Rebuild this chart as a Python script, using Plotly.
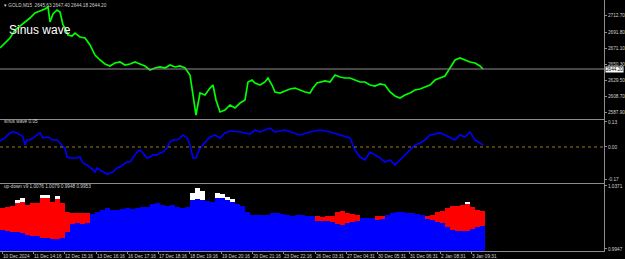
import plotly.graph_objects as go
from plotly.subplots import make_subplots

# ---------------- data ----------------
# bar positions along the time axis (bar index)
price_x = [0, 5, 10, 15, 20, 25, 30, 35, 40, 45, 48, 50, 53, 57, 60, 63, 65, 68, 72, 75,
           80, 85, 90, 95, 100, 105, 110, 115, 120, 125, 130, 135, 140, 145, 150, 155, 160,
           165, 170, 175, 180, 185, 190, 193, 196, 200, 205, 210, 213, 216, 220, 225, 230,
           235, 240, 245, 248, 252, 255, 260, 265, 268, 272, 275, 280, 285, 290, 295, 300,
           305, 310, 313, 317, 320, 325, 330, 335, 340, 345, 350, 355, 360, 365, 370, 375,
           380, 385, 390, 395, 400, 405, 410, 415, 420, 425, 430, 435, 440, 445, 450, 455,
           460, 465, 470, 475, 480, 483]
price = [2671.2, 2677.7, 2684.1, 2694.4, 2699.5, 2704.7, 2709.8, 2716.3, 2718.8, 2721.4,
         2724.0, 2704.7, 2715.0, 2720.1, 2717.6, 2700.8, 2697.0, 2688.0, 2686.7, 2690.5,
         2685.4, 2684.1, 2675.1, 2662.2, 2655.8, 2650.6, 2648.1, 2651.9, 2653.2, 2649.3,
         2650.6, 2653.2, 2650.6, 2648.1, 2642.9, 2645.5, 2646.8, 2645.5, 2649.3, 2646.8,
         2648.1, 2645.5, 2636.5, 2610.7, 2585.0, 2613.3, 2610.7, 2619.7, 2623.6, 2604.3,
         2588.9, 2591.4, 2597.9, 2594.0, 2600.4, 2604.3, 2627.5, 2630.0, 2626.2, 2623.6,
         2627.5, 2632.6, 2623.6, 2614.6, 2613.3, 2615.9, 2618.5, 2619.7, 2617.2, 2614.6,
         2613.3, 2619.7, 2626.2, 2627.5, 2628.8, 2627.5, 2636.5, 2633.9, 2632.6, 2632.6,
         2630.0, 2627.5, 2627.5, 2623.6, 2622.3, 2624.9, 2623.6, 2614.6, 2609.5, 2606.9,
         2610.7, 2613.3, 2617.2, 2618.5, 2621.0, 2623.6, 2630.0, 2632.6, 2635.2, 2645.5,
         2655.8, 2658.4, 2655.8, 2653.2, 2651.9, 2648.1, 2644.2]

sine_x = [0, 5, 10, 13, 17, 20, 23, 25, 27, 30, 33, 37, 40, 43, 47, 50, 53, 57, 60, 63,
          65, 67, 70, 73, 77, 80, 83, 87, 90, 93, 95, 97, 100, 103, 107, 110, 113, 117, 120,
          123, 127, 130, 133, 137, 140, 143, 147, 150, 153, 157, 160, 163, 167, 170, 173,
          177, 180, 183, 187, 190, 193, 196, 200, 205, 210, 215, 220, 225, 230, 240, 250,
          255, 260, 270, 275, 285, 295, 300, 310, 320, 330, 340, 350, 355, 360, 365, 370,
          375, 380, 385, 390, 395, 400, 405, 410, 415, 420, 425, 430, 440, 445, 450, 455,
          460, 465, 470, 475, 480, 483]
sine = [0.031, 0.047, 0.073, 0.078, 0.073, 0.062, 0.052, 0.010, 0.036, 0.036, 0.047,
        0.062, 0.073, 0.047, 0.052, 0.047, 0.036, 0.036, 0.021, 0.000, -0.005, -0.052,
        -0.057, -0.057, -0.057, -0.052, -0.083, -0.093, -0.104, -0.119, -0.130, -0.109,
        -0.119, -0.130, -0.140, -0.135, -0.130, -0.109, -0.104, -0.093, -0.078, -0.078,
        -0.057, -0.026, -0.016, -0.031, -0.057, -0.052, -0.041, -0.041, -0.031, -0.026,
        -0.005, 0.026, 0.036, 0.036, 0.047, 0.062, 0.047, 0.010, -0.057, -0.057, -0.005,
        0.026, 0.052, 0.062, 0.047, 0.073, 0.083, 0.078, 0.067, 0.088, 0.078, 0.098,
        0.078, 0.088, 0.073, 0.062, 0.078, 0.088, 0.078, 0.062, 0.047, -0.016, -0.052,
        -0.067, -0.026, -0.041, -0.057, -0.078, -0.067, -0.093, -0.067, -0.041, -0.016,
        0.010, 0.021, 0.036, 0.062, 0.073, 0.062, 0.047, 0.036, 0.062, 0.052, 0.078,
        0.036, 0.021, 0.010]

ud_x = list(range(0, 485, 5))
ud_blue = [1.0075, 1.0068, 1.0061, 1.0061, 1.0055, 1.0041, 1.0035, 1.0035, 1.0021, 1.0021,
           1.0014, 1.0014, 1.0021, 1.0061, 1.0115, 1.0122, 1.0115, 1.0122, 1.0183, 1.0196,
           1.0210, 1.0223, 1.0210, 1.0210, 1.0216, 1.0223, 1.0216, 1.0223, 1.0230, 1.0230,
           1.0250, 1.0257, 1.0243, 1.0236, 1.0243, 1.0230, 1.0223, 1.0230, 1.0277, 1.0284,
           1.0277, 1.0270, 1.0263, 1.0290, 1.0290, 1.0277, 1.0263, 1.0250, 1.0236, 1.0196,
           1.0176, 1.0176, 1.0176, 1.0176, 1.0189, 1.0189, 1.0183, 1.0176, 1.0169, 1.0176,
           1.0176, 1.0169, 1.0169, 1.0135, 1.0135, 1.0135, 1.0129, 1.0115, 1.0109, 1.0122,
           1.0129, 1.0135, 1.0156, 1.0156, 1.0156, 1.0142, 1.0149, 1.0176, 1.0189, 1.0196,
           1.0196, 1.0189, 1.0189, 1.0183, 1.0176, 1.0149, 1.0142, 1.0129, 1.0122, 1.0095,
           1.0075, 1.0068, 1.0068, 1.0068, 1.0082, 1.0095, 1.0102]
N = None
ud_red = [1.0223, 1.0230, 1.0236, 1.0257, 1.0263, 1.0243, 1.0257, 1.0257, 1.0290, 1.0290,
          1.0263, 1.0284, 1.0257, 1.0196, 1.0189, 1.0189, 1.0189, 1.0189, N, N,
          N, N, N, N, N, N, N, N, N, N,
          N, N, N, N, N, N, N, N, N, N,
          N, N, N, N, N, N, N, N, N, N,
          N, N, N, N, N, N, N, N, N, N,
          N, N, N, 1.0169, 1.0162, 1.0169, 1.0169, 1.0196, 1.0203, 1.0189,
          1.0183, 1.0176, N, N, N, 1.0169, 1.0169, N, N, N,
          N, N, N, N, N, 1.0169, 1.0176, 1.0196, 1.0203, 1.0223,
          1.0236, 1.0236, 1.0243, 1.0250, 1.0230, 1.0210, 1.0203]
ud_white = {15: 1.0277, 20: 1.0290, 40: 1.0310, 45: 1.0310, 55: 1.0304, 190: 1.0324,
            195: 1.0358, 200: 1.0337, 215: 1.0324, 220: 1.0317, 225: 1.0297, 230: 1.0284,
            465: 1.0263}

tick_pos = [2, 33, 64, 96, 127, 158, 189, 221, 252, 283, 315, 346, 377, 409, 440, 471]
tick_text = ["10 Dec 2024", "11 Dec 14:16", "12 Dec 15:16", "13 Dec 16:16", "16 Dec 17:16",
             "17 Dec 18:16", "18 Dec 19:16", "19 Dec 20:16", "20 Dec 21:16", "23 Dec 22:16",
             "26 Dec 03:31", "27 Dec 04:31", "30 Dec 05:31", "31 Dec 06:31", "2 Jan 08:31",
             "3 Jan 09:31"]
price_ticks = [2712.70, 2691.80, 2671.10, 2650.30, 2629.50, 2608.70, 2587.90]
sine_ticks = [0.13, 0.00, -0.17]
ud_ticks = [1.0371, 0.9947]
last_price = 2644.20

# ---------------- figure ----------------
AX = "#8c8c8c"
TXT = "#d2d2d2"
FONT = "Liberation Sans"
FS = 4.7
BASE = 0.990

fig = make_subplots(rows=3, cols=1, shared_xaxes=True, vertical_spacing=0.0)
fig.add_trace(go.Scatter(x=price_x, y=price, mode="lines",
                         line=dict(color="#00ff00", width=1.7)), row=1, col=1)
fig.add_trace(go.Scatter(x=sine_x, y=sine, mode="lines",
                         line=dict(color="#0000ff", width=1.6)), row=2, col=1)

fig.add_trace(go.Bar(x=ud_x, y=[b - BASE for b in ud_blue], base=BASE, width=5, offset=0,
                     marker=dict(color="#0000ff", line=dict(width=0))), row=3, col=1)
rx, rb, rh = [], [], []
for xv, b, r in zip(ud_x, ud_blue, ud_red):
    if r is not None:
        rx.append(xv); rb.append(b); rh.append(r - b)
fig.add_trace(go.Bar(x=rx, y=rh, base=rb, width=5, offset=0,
                     marker=dict(color="#ff0000", line=dict(width=0))), row=3, col=1)
wx, wb, wh = [], [], []
for xv, b, r in zip(ud_x, ud_blue, ud_red):
    if xv in ud_white:
        lo = r if r is not None else b
        wx.append(xv); wb.append(lo); wh.append(ud_white[xv] - lo)
fig.add_trace(go.Bar(x=wx, y=wh, base=wb, width=5, offset=0,
                     marker=dict(color="#ffffff", line=dict(width=0))), row=3, col=1)

fig.update_layout(
    width=625, height=259,
    margin=dict(l=0, r=21, t=0, b=8, autoexpand=False),
    paper_bgcolor="#000000", plot_bgcolor="#000000",
    showlegend=False, barmode="overlay", bargap=0,
    font=dict(family=FONT, color=TXT, size=FS),
)

xcommon = dict(range=[0, 604], showgrid=False, zeroline=False, showline=True,
               linecolor=AX, linewidth=1, mirror=True, automargin=False)
fig.update_layout(
    xaxis=dict(**xcommon, showticklabels=False, ticks=""),
    xaxis2=dict(**xcommon, showticklabels=False, ticks=""),
    xaxis3=dict(**xcommon, tickmode="array", tickvals=tick_pos, ticktext=tick_text,
                ticks="outside", ticklen=2, tickcolor=AX, tickangle=0,
                ticklabelposition="outside right",
                tickfont=dict(size=FS, color=TXT, family=FONT)),
)
ycommon = dict(side="right", showgrid=False, zeroline=False, showline=True,
               linecolor=AX, linewidth=1, mirror=True, ticks="outside", ticklen=2,
               tickcolor=AX, automargin=False,
               tickfont=dict(size=FS, color=TXT, family=FONT))
fig.update_layout(
    yaxis=dict(**ycommon, domain=[0.526, 1.0], range=[2579.9, 2733.0],
               tickvals=price_ticks, ticktext=[f"{v:.2f}" for v in price_ticks]),
    yaxis2=dict(**ycommon, domain=[0.271, 0.522], range=[-0.1865, 0.140],
                tickvals=sine_ticks, ticktext=[f"{v:.2f}" for v in sine_ticks]),
    yaxis3=dict(**ycommon, domain=[0.0, 0.267], range=[0.99335, 1.03845],
                tickvals=ud_ticks, ticktext=[f"{v:.4f}" for v in ud_ticks]),
)

# bid line and current price box
fig.add_shape(type="line", xref="x domain", yref="y", x0=0, x1=1, y0=last_price,
              y1=last_price, line=dict(color=AX, width=1))
fig.add_annotation(xref="paper", yref="y", x=1, y=last_price, xanchor="left",
                   xshift=1, text=f"{last_price:.2f}", showarrow=False,
                   bgcolor="#ffffff", font=dict(size=FS, color="#000000", family=FONT),
                   borderpad=0)
# zero level in the oscillator window
fig.add_shape(type="line", xref="x2 domain", yref="y2", x0=0, x1=1, y0=0, y1=0,
              line=dict(color="#a07818", width=1, dash="dot"))

# window captions
fig.add_annotation(xref="paper", yref="paper", x=0.004, y=1.0, yanchor="top",
                   xanchor="left", showarrow=False, yshift=-1,
                   text="\u25be GOLD,M15  2645.63 2647.40 2644.18 2644.20",
                   font=dict(size=FS, color=TXT, family=FONT))
fig.add_annotation(xref="paper", yref="paper", x=7 / 604, y=0.88, yanchor="middle",
                   xanchor="left", showarrow=False, text="Sinus wave",
                   font=dict(size=12, color="#ffffff", family=FONT))
fig.add_annotation(xref="paper", yref="paper", x=0.003, y=0.514, yanchor="middle",
                   xanchor="left", showarrow=False, text="sinus wave 0.05",
                   font=dict(size=FS, color=TXT, family=FONT))
fig.add_annotation(xref="paper", yref="paper", x=0.003, y=0.255, yanchor="middle",
                   xanchor="left", showarrow=False,
                   text="up-down v9 1.0076 1.0079 0.9948 0.9953",
                   font=dict(size=FS, color=TXT, family=FONT))

fig.write_html("out.html")
